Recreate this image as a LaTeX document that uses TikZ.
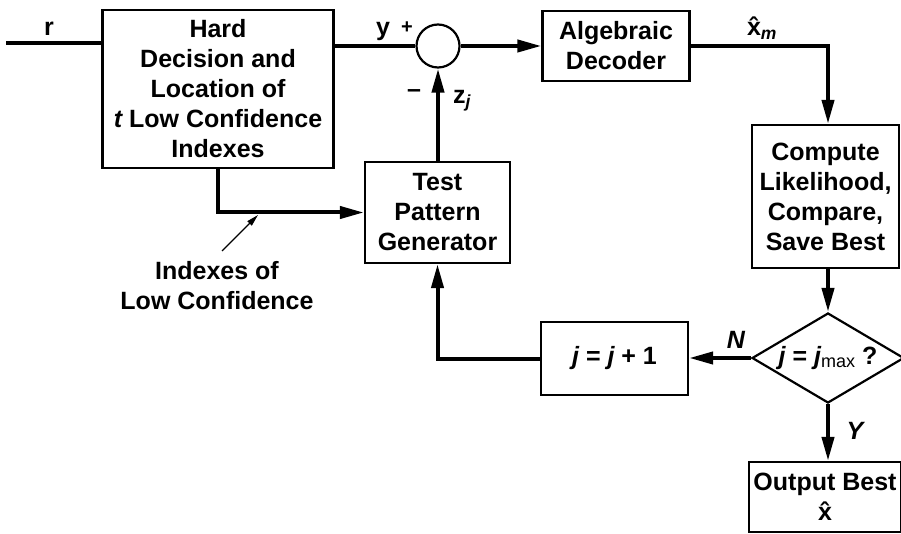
\documentclass[tikz,border=0pt]{standalone}
\usepackage{fontspec}
\setmainfont{Liberation Sans}
\usetikzlibrary{arrows.meta,shapes.geometric}
\begin{document}
\begin{tikzpicture}[x=1pt,y=-1pt,
  every node/.style={font=\fontsize{25}{30}\selectfont\bfseries},
  blk/.style={draw, line width=2.2pt, align=center, inner sep=0pt},
  sig/.style={line width=4pt},
  sigarrow/.style={sig, -{Triangle[length=24pt,width=12pt]}},
  notearrow/.style={line width=1.4pt, -{Triangle[length=12pt,width=6pt]}},
  lbl/.style={inner sep=0pt},
]
\useasboundingbox (0,0) rectangle (901,534);

% blocks
\node[blk, minimum width=231pt, minimum height=158pt] (hd) at (218,89)
  {Hard\\Decision and\\Location of\\{\itshape t} Low Confidence\\Indexes};
\node[blk, circle, minimum size=43pt] (sum) at (438,46) {};
\node[blk, minimum width=147pt, minimum height=70pt] (alg) at (616,46)
  {Algebraic\\Decoder};
\node[blk, minimum width=147pt, minimum height=143pt] (cmp) at (825.5,196.5)
  {Compute\\Likelihood,\\Compare,\\Save Best};
\node[blk, minimum width=145pt, minimum height=101pt] (tpg) at (437.5,212.5)
  {Test\\Pattern\\Generator};
\node[blk, diamond, aspect=1.65, minimum width=152pt, minimum height=90pt] (dec) at (828,358)
  {{\itshape j} = {\itshape j}\raisebox{-0.2ex}{\fontsize{18}{18}\selectfont\mdseries max} ?};
\node[blk, minimum width=147pt, minimum height=73pt] (inc) at (614.5,358.5)
  {{\itshape j} = {\itshape j} + 1};
\node[blk, minimum width=152pt, minimum height=70pt] (out) at (825,497)
  {Output Best\\\^{x}};

% signal paths
\coordinate (in) at (6,43);
\draw[sig] (in) -- (in -| hd.west);
\draw[sig] (hd.east |- sum) -- (sum.west);
\draw[sigarrow] (sum.east) -- (sum.east -| alg.west);
\draw[sigarrow] (alg.east) -| (dec.north |- cmp.north);
\draw[sigarrow] (dec.north |- cmp.south) -- (dec.north);
\draw[sigarrow] (dec.south) -- (dec.south |- out.north);
\draw[sigarrow] (dec.west) -- (dec.west -| inc.east);
\draw[sigarrow] (inc.west) -| (tpg.south);
\draw[sigarrow] (tpg.north -| sum.south) -- (sum.south);
\draw[sigarrow] (hd.south) |- (tpg.west);

% annotation
\node[align=center] (idx) at (217,286) {Indexes of\\Low Confidence};
\coordinate (idxtail) at (222,251);
\coordinate (idxtip) at (258,215);
\draw[notearrow] (idxtail) -- (idxtip);

% signal labels
\node[lbl] (lr) at (49,29) {r};
\node[lbl] (ly) at (383,31) {y};
\node[lbl, font=\fontsize{20}{20}\selectfont\bfseries] (lplus) at (407,28) {+};
\node[lbl] (lminus) at (414,94) {–};
\node[lbl] (lz) at (462,101) {z\textsubscript{\itshape j}};
\node[lbl] (lx) at (762,28) {\^{x}\textsubscript{\itshape m}};
\node[lbl] (lN) at (736,340) {\itshape N};
\node[lbl] (lY) at (855,431) {\itshape Y};
\end{tikzpicture}
\end{document}
